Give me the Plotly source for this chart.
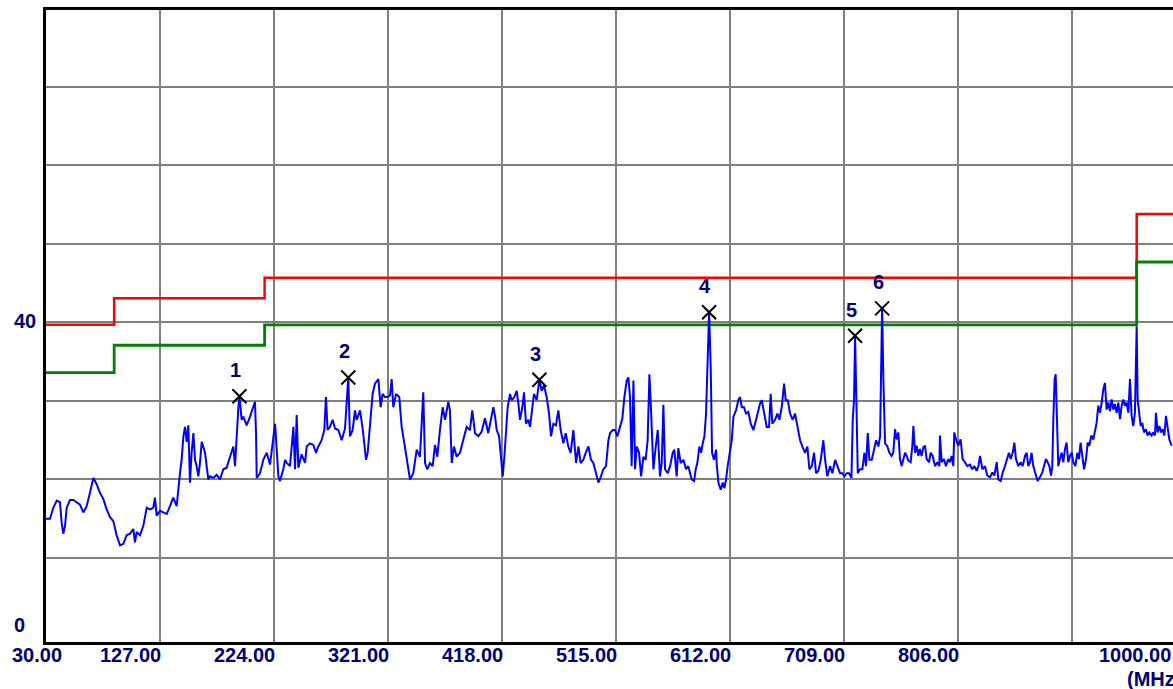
import plotly.graph_objects as go

# ---------------- data ----------------
# measured trace (MHz, dBuV/m), read from the reference, in segments
freq_a = [30.0,33.4,36.2,39.1,41.9,43.3,44.7,46.2,47.6,50.4,53.3,56.1,58.9,61.8,64.6,67.4,70.3,73.1,75.9,78.8,
          81.6,84.5,87.3,90.1,93.0,95.8,98.6,101.5,104.3,105.7,107.1,110.0,112.8,115.7,118.5,121.3,122.7,124.2,127.0,129.8,
          132.7,135.5,138.3,141.2,142.6,144.0,145.4,146.9,148.3,149.7,151.1,152.5,153.9,155.4,156.8,158.2,159.6,161.0,162.5,163.9,
          165.3,166.7,168.1,169.5,172.4,175.2,178.0,180.9,183.7,186.6,189.4,190.8,192.2,193.7,194.6,196.5,197.9,200.7,203.6,206.4,
          207.8,208.7,209.3,212.1,214.9,217.8,220.6,223.4,224.9,226.3,227.7,229.1,231.9,233.4,234.8,237.6,240.5,241.9,243.3,244.7]
level_a = [15.0,15.0,16.4,17.3,17.1,14.5,13.1,14.1,16.4,17.4,17.4,17.1,16.8,15.8,16.6,18.3,20.2,19.4,18.3,17.5,
           16.2,15.2,14.7,12.9,11.6,11.8,12.9,13.1,13.7,12.0,13.3,12.9,14.1,16.4,16.2,16.4,17.7,15.4,16.0,15.8,
           15.6,16.6,17.7,16.6,19.2,20.8,22.5,25.5,26.7,24.8,26.9,19.6,23.4,25.9,22.5,21.7,20.4,22.1,24.8,24.2,
           23.4,21.7,20.0,20.4,20.2,20.6,20.0,21.3,21.5,22.9,24.2,21.7,26.3,29.2,30.6,27.6,28.0,26.9,28.0,29.2,
           29.9,25.9,20.2,20.8,22.5,23.4,21.9,25.3,27.1,23.8,20.4,19.8,21.3,22.5,22.1,21.7,26.7,21.3,28.2,21.5]

freq_b = [247.5,250.4,251.8,254.6,257.5,259.7,261.7,264.5,266.8,268.2,269.6,271.6,273.9,275.9,278.7,281.6,284.4,287.2,288.6,290.9,
          292.9,294.3,297.2,299.4,302.3,303.7,305.7,307.9,309.9,312.8,314.7,316.4,318.4,320.7,322.7,324.1,325.5,327.8,330.6,332.6,
          334.9,336.9,339.7,342.5,345.4,348.2,349.6,351.0,352.5,354.4,356.7,359.0,361.0,362.9,365.2,367.5,369.5,372.3,373.7,375.2,
          377.1,379.4,382.2,385.1,387.9,390.7,392.7,395.0,397.8,400.7,403.5,406.3]
level_b = [23.2,22.1,24.2,24.6,24.4,23.4,24.2,25.0,26.3,30.5,26.3,26.7,27.6,26.5,26.3,25.0,26.5,33.0,25.5,26.3,
           28.8,27.6,28.8,26.5,22.5,23.4,27.1,30.9,32.2,32.8,29.2,30.9,30.5,30.5,30.7,32.8,29.2,30.9,30.5,26.7,
           24.6,22.5,20.0,20.8,23.8,22.9,27.1,31.1,22.1,21.3,22.1,21.7,24.4,22.9,26.3,29.2,27.6,29.9,28.8,22.1,
           24.2,22.9,23.4,25.0,26.7,26.3,28.8,25.9,25.5,26.1,27.8,25.9]

freq_c = [409.2,410.6,412.1,413.5,415.5,417.2,418.6,420.0,421.4,422.8,424.8,426.2,428.5,430.5,431.9,433.3,435.3,436.7,438.4,440.4,
          441.8,443.8,445.2,447.5,449.8,451.8,453.7,456.0,458.0,459.7,461.7,463.9,465.9,467.9,470.2,472.2,474.4,476.4,478.7,481.0,
          483.0,484.9,487.2,489.2,491.5,493.7,495.7,498.0,500.0,502.2,504.2,506.5,508.5,509.9,512.2,514.2,516.1,518.4,520.4,522.1,
          524.1,525.5,526.9,528.3,529.8,531.2,532.6,534.6,536.3,538.3,540.2,541.9,543.4,544.8,546.8,548.8,550.5,552.4,553.9,555.3,
          556.7,559.0,561.0,563.2,564.6,566.6,568.0,570.0,572.3,574.6,576.5]
level_c = [28.0,29.2,28.0,26.3,25.5,22.1,20.4,22.9,26.3,29.2,30.9,30.1,30.5,31.3,29.7,27.6,29.2,31.1,27.1,27.6,
           26.7,29.2,30.9,30.1,32.7,31.3,32.0,30.5,28.4,25.5,27.1,26.9,28.8,26.3,24.6,25.9,24.2,23.4,26.3,22.1,
           24.2,22.1,22.5,23.4,24.2,22.5,22.1,20.8,19.6,20.4,21.3,21.7,25.0,25.9,26.3,26.3,25.5,26.7,27.8,30.5,
           32.6,33.0,30.5,21.7,32.6,21.3,24.2,23.4,20.4,22.9,22.5,25.0,33.4,28.8,21.3,24.2,26.3,20.4,22.1,29.5,
           21.3,20.8,21.7,23.4,23.8,20.4,24.0,22.1,22.5,21.3,21.7]

freq_d = [579.4,581.4,582.8,584.2,585.9,587.4,588.8,590.2,591.6,592.7,593.6,594.2,595.6,596.7,598.4,600.1,600.7,602.1,604.1,605.8,
          607.2,608.6,610.0,611.5,613.5,614.9,617.1,619.1,620.5,622.0,623.9,625.6,627.6,629.6,631.9,633.3,635.3,637.6,639.0,641.0,
          643.2,645.2,646.6,648.0,650.3,652.3,654.0,656.0,658.0,659.4,661.1,663.1,665.3,667.3,669.3,671.6,673.6,675.8,677.8,679.5,
          681.5,683.5,685.2,687.2,689.2,691.4,692.9,694.8,697.1,699.1,701.4,703.4,705.6,707.6,709.3,711.3,713.3,715.3,716.4,717.5,
          718.4,719.5,720.7,722.6,724.6,726.3,727.7,729.2,730.6,732.6,734.5,736.3,738.2,739.7,740.5,741.4,742.5,743.9,745.9,747.6]
level_d = [20.0,19.8,21.3,22.1,24.2,23.4,24.6,25.5,28.4,33.9,41.0,41.3,34.1,23.4,22.5,23.8,21.9,19.6,18.7,19.6,
           18.9,20.0,21.7,23.4,25.0,28.0,28.8,30.1,30.5,29.2,29.2,28.4,28.6,27.1,26.3,27.1,28.4,29.7,30.1,28.4,
           26.7,26.7,30.9,27.1,27.6,28.4,27.6,29.2,32.2,30.1,30.1,28.4,27.6,28.4,26.7,25.0,24.2,23.4,24.2,21.3,
           21.7,23.4,20.8,21.1,22.5,25.0,22.5,20.4,21.7,20.8,22.5,21.7,20.8,20.8,20.4,20.8,20.8,20.2,27.6,30.1,
           38.3,30.1,20.8,21.3,21.3,23.4,21.7,25.9,22.5,22.5,23.8,25.0,24.2,25.5,33.4,41.8,32.6,24.6,24.2,23.4]

freq_e = [749.5,750.9,752.4,753.8,755.2,756.6,758.0,759.4,760.9,762.3,763.7,765.7,767.1,768.0,769.4,770.8,772.2,773.6,775.0,776.5,
          777.9,779.3,781.3,782.7,784.4,786.4,788.4,790.1,790.6,792.1,794.0,795.7,797.7,799.1,800.6,802.0,802.8,804.3,806.2,808.2,
          809.9,811.9,813.9,816.2,818.1,819.9,821.8,823.3,824.7,826.7,828.9,830.9,833.2,835.2,836.9,838.9,840.3,842.3,844.0,845.9,
          847.4,849.3,850.8,852.5,853.9,855.3,857.3,859.3,861.0,863.0,864.4,865.8,867.2,868.6,870.0,872.0,873.7,875.7,877.7,879.1,
          880.8,882.2,883.7,885.1,886.2,887.1,888.2,889.1,889.9,891.3,892.7,894.2,895.6,897.0,898.4,899.8,901.2,902.7,904.1,905.8,
          907.5,908.9,910.3,911.7,913.2,914.9,916.3,917.7,919.4,921.1,922.5,923.9,925.3,926.8,928.2,929.6,931.0,932.4,933.9,935.3,
          936.7,938.1,939.5,940.9,942.4,943.8,945.2,946.6,948.0,949.5,950.9,952.3,953.7,955.1,956.5,957.4,958.0,958.8,960.0,961.4,
          962.8,964.2,965.9,967.3,968.7,970.7,972.1,973.6,974.4,975.8,977.3,978.7,980.1,981.5,982.9,984.3,985.8,987.7]
level_e = [23.0,23.4,26.4,25.1,26.0,22.6,21.7,22.6,23.4,23.0,22.4,22.2,24.3,26.8,23.4,24.3,23.0,23.9,23.0,24.1,
           24.3,22.6,22.2,23.4,23.0,21.7,22.2,21.7,25.6,22.2,22.6,21.7,22.6,22.2,23.0,21.7,26.0,25.1,24.3,25.1,
           22.6,22.2,21.7,21.9,21.3,21.7,21.1,21.7,23.0,21.3,21.7,20.5,20.3,20.9,20.5,22.2,20.0,19.8,20.9,21.7,
           22.6,23.4,22.6,23.4,24.7,22.6,21.7,22.2,21.7,23.0,23.4,21.7,22.2,23.4,21.7,20.5,19.8,20.3,20.9,21.7,
           22.6,22.2,21.7,20.5,21.7,27.7,32.8,33.4,27.7,21.7,22.6,23.4,22.2,23.9,24.7,22.2,23.0,23.4,22.2,21.7,
           23.4,22.6,24.7,23.0,21.3,22.6,24.7,24.3,25.6,25.1,26.0,27.2,29.4,28.5,29.8,31.5,32.3,28.9,29.8,28.7,
           30.2,28.9,29.6,28.5,29.8,27.7,29.4,30.2,29.4,29.8,28.5,32.8,28.1,26.8,28.5,34.4,39.5,30.2,28.5,26.8,
           27.2,26.0,26.4,25.6,26.0,25.6,26.0,25.6,28.5,26.0,26.8,26.0,26.4,25.6,28.1,26.8,25.1,24.3]

# limit lines (step edges in MHz, level in dBuV/m)
limit_freq = [30, 88, 216, 958, 1000]
limit_red = [39.7, 43.1, 45.7, 53.8, 53.8]
limit_green = [33.6, 37.1, 39.7, 47.7, 47.7]

# peak markers
marker_freq = [194.6, 287.2, 449.8, 594.2, 718.4, 741.4]
marker_level = [30.6, 33.0, 32.7, 41.3, 38.3, 41.8]
marker_names = ["1", "2", "3", "4", "5", "6"]

# axis labels
x_tick_vals = [30, 127, 224, 321, 418, 515, 612, 709, 806, 903, 1000]
x_label_vals = [30, 127, 224, 321, 418, 515, 612, 709, 806, 1000]
y_grid_vals = [10, 20, 30, 40, 50, 60, 70]
y_label_vals = [40, 0]

# ---------------- figure ----------------
freq = freq_a + freq_b + freq_c + freq_d + freq_e
level = level_a + level_b + level_c + level_d + level_e

FONT = "Liberation Sans, Arial, sans-serif"
NAVY = "#00007a"
LBL = dict(family=FONT, size=20, color=NAVY, weight="bold")

fig = go.Figure()
fig.add_trace(go.Scatter(x=limit_freq, y=limit_red, mode="lines", line=dict(color="#ff0000", width=2.5, shape="hv")))
fig.add_trace(go.Scatter(x=limit_freq, y=limit_green, mode="lines", line=dict(color="#008000", width=2.8, shape="hv")))
fig.add_trace(go.Scatter(x=freq, y=level, mode="lines", line=dict(color="#0000ff", width=2)))
fig.add_trace(go.Scatter(x=marker_freq, y=marker_level, mode="markers",
                         marker=dict(symbol="x-thin", size=14, line=dict(color="black", width=2))))

ann = []
for v in x_label_vals:
    if v == 30:
        ann.append(dict(x=v, xref="x", xanchor="left", xshift=-36))
    elif v == 1000:
        ann.append(dict(x=1.0, xref="paper", xanchor="right"))
    else:
        ann.append(dict(x=v, xref="x", xanchor="right", xshift=3))
    ann[-1].update(text=f"{v:.2f}", y=-0.0198, yref="paper", yanchor="middle", showarrow=False, font=LBL)

for v in y_label_vals:
    if v == 0:
        ann.append(dict(text=str(v), x=-0.0302, xref="paper", xanchor="left",
                        y=0.0269, yref="paper", yanchor="middle", showarrow=False, font=LBL))
    else:
        ann.append(dict(text=str(v), x=-0.0302, xref="paper", xanchor="left",
                        y=v, yref="y", yanchor="middle", yshift=1, showarrow=False, font=LBL))

for f, l, n in zip(marker_freq, marker_level, marker_names):
    ann.append(dict(text=n, x=f, y=l, xref="x", yref="y", xshift=-4, yshift=26, showarrow=False, font=LBL))

ann.append(dict(text="(MHz)", x=0.9574, xref="paper", xanchor="left", y=-0.0578, yref="paper", yanchor="middle",
                showarrow=False, font=LBL))
ann.append(dict(text="dBuV/m", x=-0.0293, xref="paper", xanchor="left", y=1.004, yref="paper", yanchor="bottom",
                showarrow=False, font=dict(family=FONT, size=22, color=NAVY, weight="bold")))

fig.update_layout(
    width=1173, height=689,
    margin=dict(l=46, r=0, t=10, b=47, pad=0),
    paper_bgcolor="white", plot_bgcolor="white",
    showlegend=False,
    annotations=ann,
    xaxis=dict(range=[30, 988.9], tickvals=x_tick_vals, showticklabels=False, ticks="",
               showgrid=True, gridcolor="#808080", gridwidth=2, zeroline=False,
               showline=True, linecolor="black", linewidth=3, mirror=True),
    yaxis=dict(range=[-0.7, 79.8], tickvals=y_grid_vals, showticklabels=False, ticks="",
               showgrid=True, gridcolor="#808080", gridwidth=2, zeroline=False,
               showline=True, linecolor="black", linewidth=3, mirror=False),
)

fig.write_html("out.html")
